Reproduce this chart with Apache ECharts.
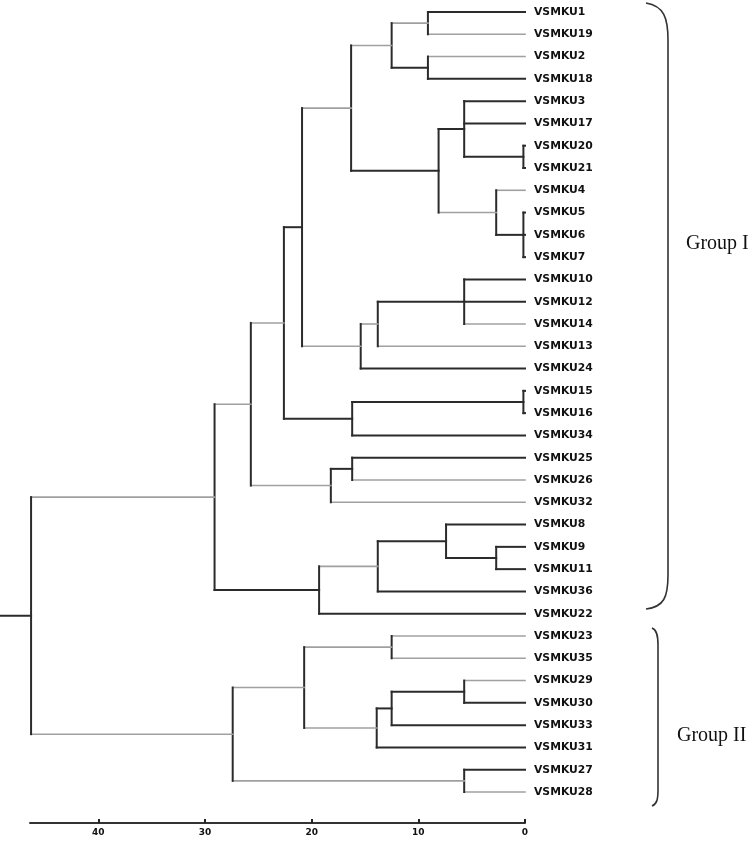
<!DOCTYPE html>
<html>
<head>
<meta charset="utf-8">
<script src="https://cdn.jsdelivr.net/npm/echarts@6/dist/echarts.min.js"></script>
<style>
html,body{margin:0;padding:0;background:#fff;}
#chart{width:756px;height:844px;}
</style>
</head>
<body>
<div id="chart"></div>
<script>
// Leaves, top to bottom
const leaves = ['VSMKU1','VSMKU19','VSMKU2','VSMKU18','VSMKU3','VSMKU17','VSMKU20','VSMKU21',
  'VSMKU4','VSMKU5','VSMKU6','VSMKU7','VSMKU10','VSMKU12','VSMKU14','VSMKU13','VSMKU24',
  'VSMKU15','VSMKU16','VSMKU34','VSMKU25','VSMKU26','VSMKU32','VSMKU8','VSMKU9','VSMKU11',
  'VSMKU36','VSMKU22','VSMKU23','VSMKU35','VSMKU29','VSMKU30','VSMKU33','VSMKU31','VSMKU27','VSMKU28'];

// Clusters: children (leaf names or earlier cluster indices) and merge distance
const clusterChildren = [
  ['VSMKU1','VSMKU19'],            // 0
  ['VSMKU2','VSMKU18'],            // 1
  [0,1],                           // 2
  ['VSMKU20','VSMKU21'],           // 3
  ['VSMKU3','VSMKU17',3],          // 4
  ['VSMKU5','VSMKU6','VSMKU7'],    // 5
  ['VSMKU4',5],                    // 6
  [4,6],                           // 7
  [2,7],                           // 8
  ['VSMKU10','VSMKU12','VSMKU14'], // 9
  [9,'VSMKU13'],                   // 10
  [10,'VSMKU24'],                  // 11
  [8,11],                          // 12
  ['VSMKU15','VSMKU16'],           // 13
  [13,'VSMKU34'],                  // 14
  [12,14],                         // 15
  ['VSMKU25','VSMKU26'],           // 16
  [16,'VSMKU32'],                  // 17
  [15,17],                         // 18
  ['VSMKU9','VSMKU11'],            // 19
  ['VSMKU8',19],                   // 20
  [20,'VSMKU36'],                  // 21
  [21,'VSMKU22'],                  // 22
  [18,22],                         // 23
  ['VSMKU23','VSMKU35'],           // 24
  ['VSMKU29','VSMKU30'],           // 25
  [25,'VSMKU33'],                  // 26
  [26,'VSMKU31'],                  // 27
  [24,27],                         // 28
  ['VSMKU27','VSMKU28'],           // 29
  [28,29],                         // 30
  [23,30]                          // 31
];
const clusterHeights = [9.1,9.1,12.5,0.15,5.7,0.15,2.7,8.1,16.3,5.7,13.8,15.4,20.9,0.15,16.2,22.6,
  16.2,18.2,25.7,2.7,7.4,13.8,19.3,29.1,12.5,5.7,12.5,13.9,20.7,5.7,27.4,46.3];
const rootTail = 49.2;

const xTicks = [0,10,20,30,40];
const groupNames = ['Group I','Group II'];

// Styles (branch shades): 'd' dark, 'g' grey
const leafShade = ['d','g','g','d','d','d','d','d','g','d','d','d','d','d','g','g','d',
  'd','d','d','d','g','g','d','d','d','d','d','g','g','g','d','d','d','d','g'];
const clusterShade = ['g','d','g','d','d','d','g','d','g','d','g','g','d','d','d','g',
  'd','g','g','d','d','g','d','g','g','d','d','g','g','g','g','d'];

// Build segments from tree
const pos = {};
leaves.forEach((n,i)=>{ pos[n] = {x:0, y:i, shade:leafShade[i]}; });
const cpos = [];
const segs = [];
function getPos(c){ return typeof c === 'number' ? cpos[c] : pos[c]; }
clusterChildren.forEach((ch,k)=>{
  const h = clusterHeights[k];
  const ps = ch.map(getPos);
  const ys = ps.map(p=>p.y);
  const ymin = Math.min(...ys), ymax = Math.max(...ys);
  ps.forEach(p=>{ if (h > p.x) segs.push([p.x, p.y, h, p.y, p.shade]); });
  segs.push([h, ymin, h, ymax, 'd']);
  cpos[k] = {x:h, y:(ymin+ymax)/2, shade:clusterShade[k]};
});
const root = cpos[cpos.length-1];
segs.push([root.x, root.y, rootTail, root.y, root.shade]);

const chart = echarts.init(document.getElementById('chart'));
const DARK = '#2b2b2b', GREY = '#a0a0a0';
const braceStyle = {fill:null, stroke:'#333', lineWidth:1.6};
chart.setOption({
  animation:false,
  grid:{left:30, right:231, top:12, bottom:52},
  xAxis:{
    type:'value', inverse:true, min:0, max:46.4, interval:10,
    position:'bottom', offset:31,
    splitLine:{show:false},
    axisLine:{show:true, onZero:false, lineStyle:{color:'#333', width:2}},
    axisTick:{show:true, inside:true, length:4, customValues:xTicks, lineStyle:{color:'#222', width:2}},
    axisLabel:{customValues:xTicks, color:'#111', fontFamily:'DejaVu Sans', fontWeight:'bold', fontSize:9, margin:5}
  },
  yAxis:[
    {type:'value', min:0, max:leaves.length-1, inverse:true, show:false},
    {type:'category', data:leaves, inverse:true, boundaryGap:false, position:'right',
     axisLine:{show:false}, axisTick:{show:false}, splitLine:{show:false},
     axisLabel:{color:'#111', fontFamily:'DejaVu Sans', fontWeight:'bold', fontSize:10.8, margin:9, interval:0}}
  ],
  series:[{
    type:'custom', coordinateSystem:'cartesian2d', xAxisIndex:0, yAxisIndex:0,
    clip:false,
    data:segs,
    encode:{x:[0,2], y:[1,3]},
    renderItem:function(params, api){
      const p1 = api.coord([api.value(0), api.value(1)]);
      const p2 = api.coord([api.value(2), api.value(3)]);
      const shade = segs[params.dataIndex][4];
      return {type:'line', shape:{x1:p1[0], y1:p1[1], x2:p2[0], y2:p2[1]},
        style:{stroke: shade==='d'?DARK:GREY, lineWidth: shade==='d'?2:1.6, lineCap:'square'}};
    }
  }],
  graphic:[
    {type:'bezierCurve', shape:{x1:646,y1:3,cpx1:664,cpy1:6,cpx2:668,cpy2:18,x2:668,y2:40}, style:braceStyle},
    {type:'line', shape:{x1:668,y1:40,x2:668,y2:575}, style:braceStyle},
    {type:'bezierCurve', shape:{x1:668,y1:575,cpx1:668,cpy1:597,cpx2:664,cpy2:607,x2:646,y2:609}, style:braceStyle},
    {type:'bezierCurve', shape:{x1:652,y1:628,cpx1:657,cpy1:630,cpx2:658,cpy2:636,x2:658,y2:645}, style:braceStyle},
    {type:'line', shape:{x1:658,y1:645,x2:658,y2:790}, style:braceStyle},
    {type:'bezierCurve', shape:{x1:658,y1:790,cpx1:658,cpy1:799,cpx2:657,cpy2:804,x2:652,y2:806}, style:braceStyle},
    {type:'text', left:686, top:234, style:{text:groupNames[0], font:'20px "Liberation Serif"', fill:'#111'}},
    {type:'text', left:677, top:726, style:{text:groupNames[1], font:'20px "Liberation Serif"', fill:'#111'}}
  ]
});
</script>
</body>
</html>
